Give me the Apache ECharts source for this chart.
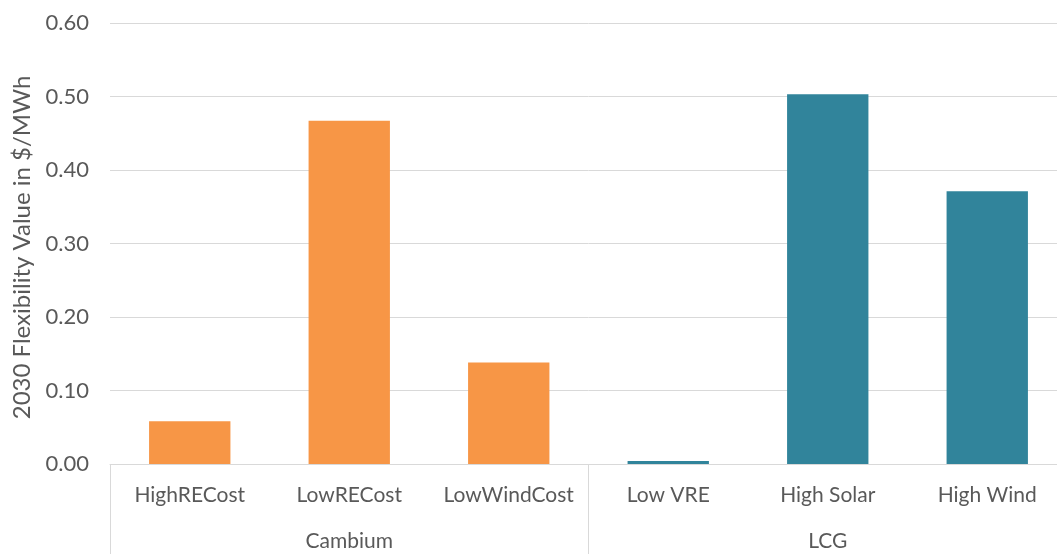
<!DOCTYPE html>
<html>
<head>
<meta charset="utf-8">
<script src="https://cdn.jsdelivr.net/npm/echarts@6/dist/echarts.min.js"></script>
<style>html,body{margin:0;padding:0;background:#fff;overflow:hidden;width:1057px;height:554px}#c{width:1067px;height:554px}</style>
</head>
<body>
<div id="c"></div>
<script>
const categories = ['HighRECost', 'LowRECost', 'LowWindCost', 'Low VRE', 'High Solar', 'High Wind'];
const groups = ['Cambium', 'LCG'];
const cambiumValues = [0.058, 0.467, 0.138, null, null, null];
const lcgValues = [null, null, null, 0.004, 0.503, 0.371];
const yTicks = { min: 0, max: 0.6, interval: 0.1 };
const yTitle = '2030 Flexibility Value in $/MWh';

const chart = echarts.init(document.getElementById('c'));
const font = 'Lato';
const txt = '#595959';
const grid = '#d9d9d9';
chart.setOption({
  animation: false,
  grid: { left: 110, right: 0, top: 23, bottom: 90, containLabel: false },
  xAxis: [
    {
      type: 'category', data: categories,
      axisLine: { show: true, lineStyle: { color: grid, width: 1 } },
      axisTick: { show: false },
      axisLabel: { interval: 0, margin: 21, color: txt, fontFamily: font, fontSize: 21 }
    },
    {
      type: 'category', data: groups, position: 'bottom',
      axisLine: { show: false },
      axisTick: { show: true, length: 95, interval: 0, lineStyle: { color: grid, width: 1 } },
      axisLabel: { interval: 0, margin: 67, color: txt, fontFamily: font, fontSize: 21 }
    }
  ],
  yAxis: {
    type: 'value', min: yTicks.min, max: yTicks.max, interval: yTicks.interval,
    name: yTitle, nameLocation: 'middle', nameRotate: 90, nameGap: 72,
    nameTextStyle: { color: txt, fontFamily: font, fontSize: 24, padding: [0, 8, 0, 0] },
    axisLine: { show: false }, axisTick: { show: false },
    axisLabel: { margin: 21, color: txt, fontFamily: font, fontSize: 22, formatter: v => v.toFixed(2) },
    splitLine: { lineStyle: { color: grid, width: 1 } }
  },
  series: [
    { type: 'bar', name: 'Cambium', data: cambiumValues, barWidth: '51%', barGap: '-100%', itemStyle: { color: '#F79646' } },
    { type: 'bar', name: 'LCG', data: lcgValues, barWidth: '51%', barGap: '-100%', itemStyle: { color: '#31849B' } }
  ]
});
</script>
</body>
</html>
